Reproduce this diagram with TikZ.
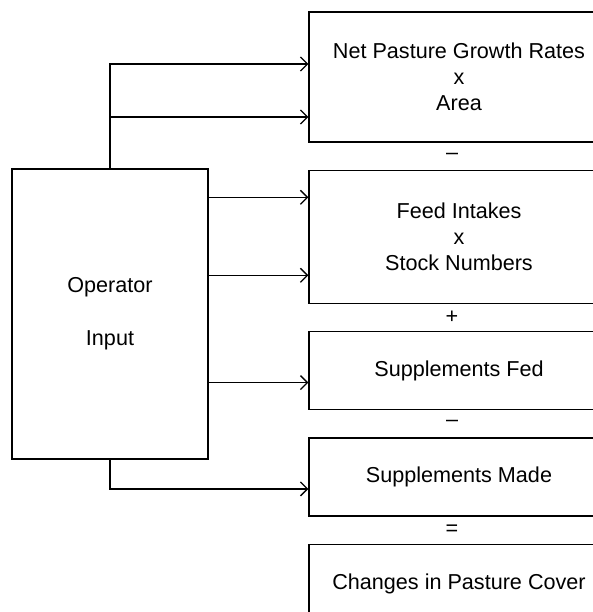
\documentclass[tikz,border=0pt]{standalone}
\usepackage{fontspec}
\setmainfont{Liberation Sans}
\usetikzlibrary{positioning}
\usetikzlibrary{arrows.meta}
\usetikzlibrary{calc}

\begin{document}
\begin{tikzpicture}[x=1pt,y=-1pt,line width=1.3pt,>={Straight Barb[length=7pt,width=14pt]},
  font=\fontsize{21.6}{26}\selectfont,node distance=27pt]

\tikzstyle{term}=[rectangle,minimum width=300pt,inner sep=0pt,align=center,draw]
\tikzstyle{input}=[rectangle,minimum width=196pt,minimum height=290pt,align=center,draw]
\tikzstyle{sign}=[inner sep=0pt]

\clip (0,0) rectangle (593,612);

\node[term,minimum height=130pt] (growth) at (459,77) {Net Pasture Growth Rates\\x\\Area};
\node[term,minimum height=133pt,below = of growth] (intake) {Feed Intakes\\x\\Stock Numbers};
\node[term,minimum height=78pt,below = of intake] (suppfed) {Supplements Fed};
\node[term,minimum height=78pt,below = of suppfed] (suppmade) {Supplements Made};
\node[term,minimum height=80pt,below = of suppmade] (cover) {Changes in Pasture Cover};

\node[input] (operator) at (110,314) {Operator\\[27pt]Input};

\node[sign] (minusa) at ($(growth.south)!0.5!(intake.north)+(-7,0)$) {–};
\node[sign] (plus) at ($(intake.south)!0.5!(suppfed.north)+(-7,0)$) {+};
\node[sign] (minusb) at ($(suppfed.south)!0.5!(suppmade.north)+(-7,0)$) {–};
\node[sign] (equals) at ($(suppmade.south)!0.5!(cover.north)+(-7,0)$) {=};

\coordinate (g1) at ([yshift=13pt]growth.west);
\coordinate (g2) at ([yshift=-40pt]growth.west);
\coordinate (f1) at ([yshift=39.5pt]intake.west);
\coordinate (f2) at ([yshift=-38.5pt]intake.west);
\coordinate (s1) at ([yshift=-12pt]suppfed.west);
\coordinate (m1) at ([yshift=-12pt]suppmade.west);

\draw[->](operator.north) |- (g1);
\draw[->](operator.north) |- (g2);
\draw[->](operator.east |- f1) -- (f1);
\draw[->](operator.east |- f2) -- (f2);
\draw[->](operator.east |- s1) -- (s1);
\draw[->](operator.south) |- (m1);

\end{tikzpicture}
\end{document}
